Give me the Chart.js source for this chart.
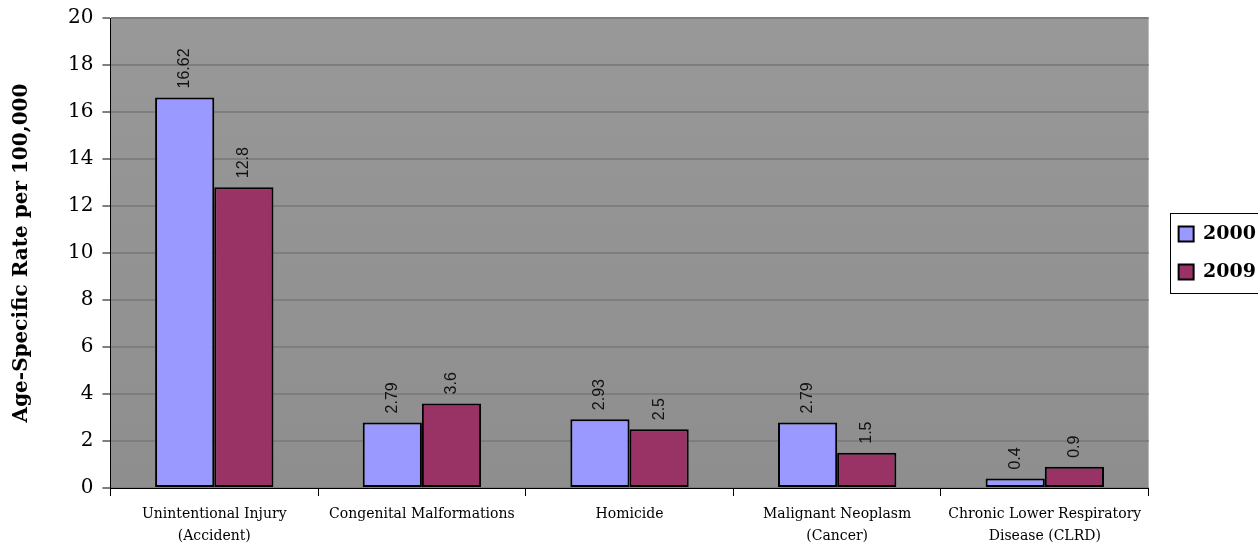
<!DOCTYPE html>
<html>
<head>
<meta charset="utf-8">
<script src="https://cdn.jsdelivr.net/npm/chart.js@4"></script>
<style>
  html, body { margin: 0; padding: 0; background: #fff; }
  #wrap { width: 1258px; height: 546px; }
</style>
</head>
<body>
<div id="wrap"><canvas id="chart-area" width="1258" height="546"></canvas></div>
<script>
var categories = [
    ['Unintentional Injury', '(Accident)'],
    'Congenital Malformations',
    'Homicide',
    ['Malignant Neoplasm', '(Cancer)'],
    ['Chronic Lower Respiratory', 'Disease (CLRD)']
];
var rates2000 = [16.62, 2.79, 2.93, 2.79, 0.4];
var rates2009 = [12.8, 3.6, 2.5, 1.5, 0.9];
var seriesNames = ['2000', '2009'];

var serif = '"DejaVu Serif", "Liberation Serif", serif';

// gray plot area with a slight shade
var plotBg = {
    id: 'plotBg',
    beforeDraw: function(chart) {
        var a = chart.chartArea, ctx = chart.ctx;
        var g = ctx.createLinearGradient(0, a.top, 0, a.bottom);
        g.addColorStop(0, '#989898');
        g.addColorStop(1, '#8e8e8e');
        ctx.save();
        ctx.fillStyle = g;
        ctx.fillRect(a.left, a.top, a.right - a.left, a.bottom - a.top);
        ctx.restore();
    }
};

// rotated value labels above each bar
var valueLabels = {
    id: 'valueLabels',
    afterDatasetsDraw: function(chart) {
        var ctx = chart.ctx;
        ctx.save();
        ctx.font = '16px "Liberation Sans", Arial, sans-serif';
        ctx.fillStyle = '#111';
        ctx.textAlign = 'left';
        ctx.textBaseline = 'middle';
        chart.data.datasets.forEach(function(ds, i) {
            chart.getDatasetMeta(i).data.forEach(function(bar, j) {
                ctx.save();
                ctx.translate(bar.x, bar.y - 9);
                ctx.rotate(-Math.PI / 2);
                ctx.fillText(String(ds.data[j]), 0, 0);
                ctx.restore();
            });
        });
        ctx.restore();
    }
};

// leave a gap between the plot and the legend, then frame the legend
var legendGap = {
    id: 'legendGap',
    beforeLayout: function(chart) {
        var lg = chart.legend;
        if (lg && !lg._gapWrapped) {
            var fit = lg.fit;
            lg.fit = function() {
                fit.call(this);
                this.width += 3;
            };
            lg._gapWrapped = true;
        }
    },
    afterLayout: function(chart) {
        var lg = chart.legend;
        lg.left += 11;
        lg.right += 11;
        lg.top -= 29;
        lg.bottom -= 29;
    },
    afterDraw: function(chart) {
        var lg = chart.legend, ctx = chart.ctx;
        var mid = (lg.top + lg.bottom) / 2;
        var left = Math.round(lg.left + 10);
        ctx.save();
        ctx.strokeStyle = '#000';
        ctx.lineWidth = 1;
        ctx.strokeRect(left + 0.5, Math.round(mid - 40) + 0.5, chart.width - left, 80);
        ctx.restore();
    }
};

var config = {
    type: 'bar',
    data: {
        labels: categories,
        datasets: [{
            label: seriesNames[0],
            data: rates2000,
            backgroundColor: '#9999FF',
            borderColor: '#000',
            borderWidth: 2,
            borderSkipped: false,
            categoryPercentage: 0.57,
            barPercentage: 1.0
        }, {
            label: seriesNames[1],
            data: rates2009,
            backgroundColor: '#993366',
            borderColor: '#000',
            borderWidth: 2,
            borderSkipped: false,
            categoryPercentage: 0.57,
            barPercentage: 1.0
        }]
    },
    options: {
        responsive: false,
        animation: false,
        layout: { padding: { top: 18, right: 0, left: 10, bottom: 0 } },
        plugins: {
            tooltip: { enabled: false },
            legend: {
                position: 'right',
                align: 'center',
                labels: {
                    color: '#000',
                    font: { family: serif, size: 19, weight: 'bold' },
                    boxWidth: 15,
                    boxHeight: 15,
                    padding: 19,
                    generateLabels: function(chart) {
                        return chart.data.datasets.map(function(ds, i) {
                            return {
                                text: ds.label,
                                fillStyle: ds.backgroundColor,
                                strokeStyle: '#000',
                                lineWidth: 2,
                                datasetIndex: i
                            };
                        });
                    }
                }
            }
        },
        scales: {
            x: {
                afterFit: function(scale) { scale.height = 58; },
                grid: {
                    drawOnChartArea: false,
                    drawTicks: true,
                    tickLength: 8,
                    tickColor: '#000',
                    offset: true
                },
                border: { color: '#000', width: 1 },
                ticks: {
                    color: '#000',
                    maxRotation: 0,
                    autoSkip: false,
                    font: { family: serif, size: 14, lineHeight: 1.57 },
                    padding: 7
                }
            },
            y: {
                min: 0,
                max: 20,
                afterFit: function(scale) { scale.paddingTop = 0; },
                ticks: {
                    stepSize: 2,
                    color: '#000',
                    font: { family: serif, size: 20 },
                    padding: 9
                },
                grid: {
                    color: '#7e7e7e',
                    lineWidth: 2,
                    tickColor: '#000',
                    tickLength: 8,
                    tickWidth: 1
                },
                border: { color: '#000', width: 1 },
                title: {
                    display: true,
                    text: 'Age-Specific Rate per 100,000',
                    color: '#000',
                    font: { family: serif, size: 20, weight: 'bold' },
                    padding: { top: 0, bottom: 25 }
                }
            }
        }
    },
    plugins: [plotBg, valueLabels, legendGap]
};

window.onload = function() {
    var ctx = document.getElementById('chart-area').getContext('2d');
    window.myBar = new Chart(ctx, config);
};
</script>
</body>
</html>
